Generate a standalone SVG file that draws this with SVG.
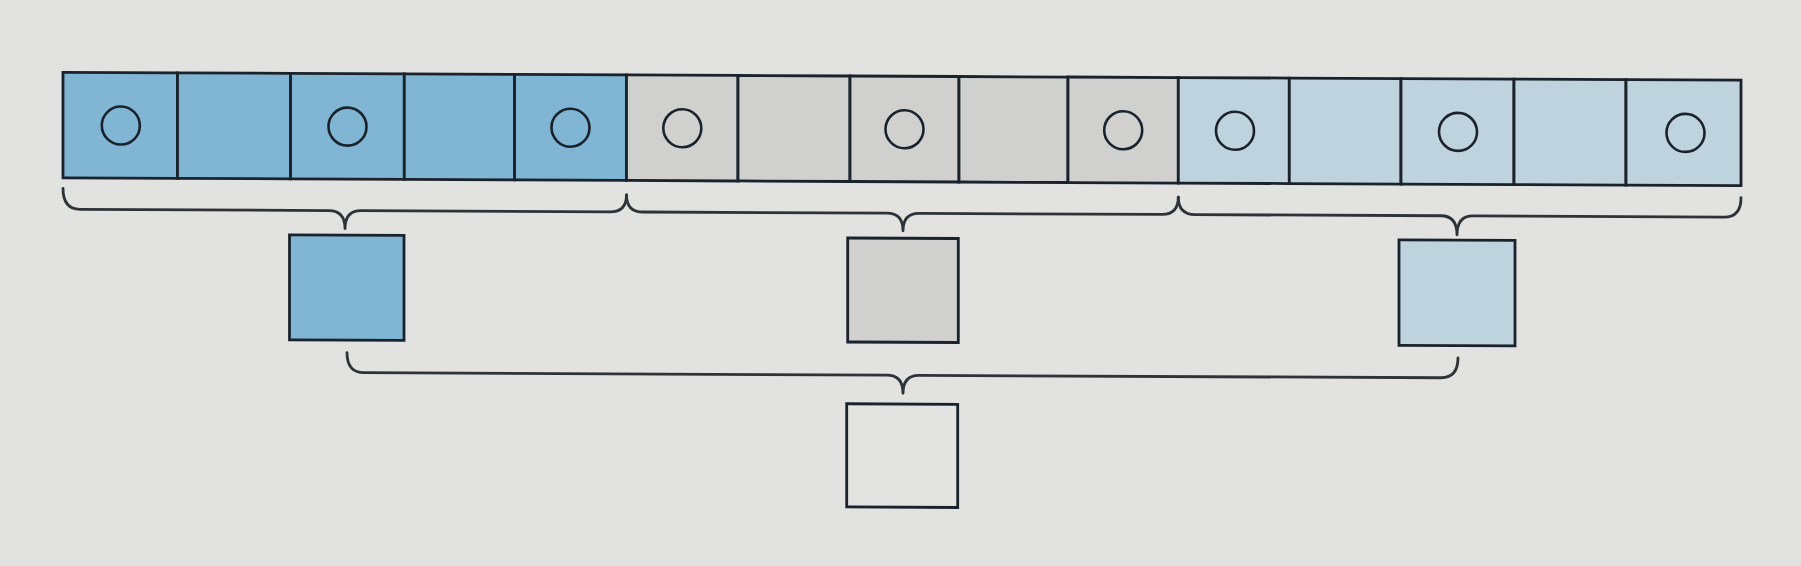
<svg xmlns="http://www.w3.org/2000/svg" width="1801" height="566" viewBox="0 0 1801 566">
<style>
.cell{stroke:#1a222b;stroke-width:2.8}
.b1{fill:#80b5d3}
.g{fill:#d0d0cf}
.b2{fill:#bfd3df}
.e{fill:#e3e3e2}
.dot{fill:none;stroke:#1a222b;stroke-width:2.6}
.brace{fill:none;stroke:#2e3338;stroke-width:2.8;stroke-linejoin:round;stroke-linecap:round}
</style>
<rect x="0" y="0" width="1801" height="566" fill="#e2e2e0"/>
<g transform="matrix(1 0.0047 0 1 0 0)">
<g id="row">
<g id="c0"><rect class="cell b1" x="63" y="72" width="114.5" height="105.5"/><circle class="dot" cx="120.8" cy="125" r="19"/></g>
<g id="c1"><rect class="cell b1" x="177.5" y="72" width="113.1" height="105.5"/></g>
<g id="c2"><rect class="cell b1" x="290.6" y="72" width="113.7" height="105.5"/><circle class="dot" cx="347.5" cy="125" r="19"/></g>
<g id="c3"><rect class="cell b1" x="404.3" y="72" width="110.3" height="105.5"/></g>
<g id="c4"><rect class="cell b1" x="514.6" y="72" width="111.9" height="105.5"/><circle class="dot" cx="570.5" cy="125" r="19"/></g>
<g id="c5"><rect class="cell g" x="626.5" y="72" width="111.5" height="105.5"/><circle class="dot" cx="682.3" cy="125" r="19"/></g>
<g id="c6"><rect class="cell g" x="738" y="72" width="112" height="105.5"/></g>
<g id="c7"><rect class="cell g" x="850" y="72" width="109" height="105.5"/><circle class="dot" cx="904.5" cy="125" r="19"/></g>
<g id="c8"><rect class="cell g" x="959" y="72" width="109" height="105.5"/></g>
<g id="c9"><rect class="cell g" x="1068" y="72" width="110.3" height="105.5"/><circle class="dot" cx="1123.2" cy="125" r="19"/></g>
<g id="c10"><rect class="cell b2" x="1178.3" y="72" width="111" height="105.5"/><circle class="dot" cx="1235" cy="125" r="19"/></g>
<g id="c11"><rect class="cell b2" x="1289.3" y="72" width="111.7" height="105.5"/></g>
<g id="c12"><rect class="cell b2" x="1401" y="72" width="113" height="105.5"/><circle class="dot" cx="1458" cy="125" r="19"/></g>
<g id="c13"><rect class="cell b2" x="1514" y="72" width="112" height="105.5"/></g>
<g id="c14"><rect class="cell b2" x="1626" y="72" width="115" height="105.5"/><circle class="dot" cx="1685.5" cy="125" r="19"/></g>
</g>
<g id="sum1"><rect class="cell b1" x="289.5" y="233.5" width="114.5" height="105"/></g>
<g id="sum2"><rect class="cell g" x="847.7" y="234" width="110.6" height="104"/></g>
<g id="sum3"><rect class="cell b2" x="1399" y="233.3" width="116" height="105.5"/></g>
<g id="total"><rect class="cell e" x="846.7" y="399.8" width="111" height="103.2"/></g>
<g id="connectors">
<path class="brace" d="M63,188 Q63,209 80,209 L329,209 Q345,209 345,227 Q345,209 361,209 L610,209 Q626.5,209 626.5,192"/>
<path class="brace" d="M626.5,192 Q626.5,209 643,209 L887,209 Q903,209 903,226.5 Q903,209 919,209 L1162,209 Q1178.3,209 1178.3,191.5"/>
<path class="brace" d="M1178.3,191.5 Q1178.3,209 1195,209 L1441,209 Q1457,209 1457,228 Q1457,209 1473,209 L1724,209 Q1741,209 1741,189.5"/>
<path class="brace" d="M347,351 Q347,371 364,371 L887,371 Q903,371 903,389 Q903,371 919,371 L1441,371 Q1458,371 1458,351"/>
</g>
</g>
</svg>
